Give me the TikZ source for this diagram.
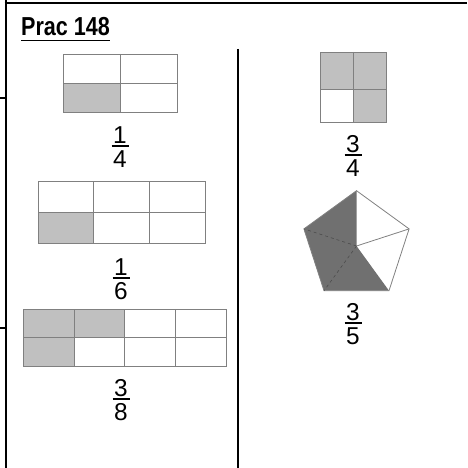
\documentclass[tikz,border=0pt]{standalone}
\usepackage{fontspec}
\setmainfont{Liberation Sans}
\definecolor{gridgray}{RGB}{128,128,128}
\definecolor{shadegray}{RGB}{192,192,192}
\definecolor{pentdark}{RGB}{112,112,112}
\newcommand\myfrac[5]{%
  \node[digit,anchor=base] (#1n) at (#2,#3-2.5) {#4};
  \node[digit,anchor=north] (#1d) at (#2,#3+4.5) {#5};
  \draw[frbar] (#2-8.5,#3) -- (#2+8.5,#3);}
\begin{document}
\begin{tikzpicture}[x=1pt,y=-1pt,
  cell/.style={draw=gridgray,line width=0.9pt},
  shadecell/.style={fill=shadegray},
  digit/.style={inner sep=0pt,font=\fontsize{24.4}{28}\selectfont},
  frbar/.style={line width=1.1pt},
  border/.style={line width=2pt},
  stub/.style={line width=1.5pt}]
\useasboundingbox (0,0) rectangle (467,468);
% borders
\draw[border] (5.5,0) -- (5.5,468);
\draw[border] (4.5,3) -- (467,3);
\draw[stub] (0,98) -- (5.5,98);
\draw[stub] (0,328) -- (5.5,328);
\draw[border] (238,49) -- (238,468);
% title
\node[anchor=base west,inner sep=0pt,font=\bfseries\fontsize{26}{30}\selectfont] (title) at (21,36) {\scalebox{0.83}[1]{Prac 148}};
\draw[line width=1.5pt] ([yshift=-4pt]title.south west) -- ([yshift=-4pt]title.south east);
% grid A : 1/4
\fill[shadecell] (63,83) rectangle (120,112);
\draw[cell] (63,54) rectangle (177,112);
\draw[cell] (120,54) -- (120,112);
\draw[cell] (63,83) -- (177,83);
\myfrac{fa}{120}{146}{1}{4}
% grid B : 1/6
\fill[shadecell] (38,212) rectangle (93.7,243);
\draw[cell] (38,181) rectangle (205,243);
\draw[cell] (93.7,181) -- (93.7,243);
\draw[cell] (149.3,181) -- (149.3,243);
\draw[cell] (38,212) -- (205,212);
\myfrac{fb}{121}{278}{1}{6}
% grid C : 3/8
\fill[shadecell] (23,309) rectangle (124.5,337.5);
\fill[shadecell] (23,337.5) rectangle (74,366);
\draw[cell] (23,309) rectangle (226,366);
\draw[cell] (74,309) -- (74,366);
\draw[cell] (124.5,309) -- (124.5,366);
\draw[cell] (175,309) -- (175,366);
\draw[cell] (23,337.5) -- (226,337.5);
\myfrac{fc}{121}{399}{3}{8}
% grid D : 3/4
\fill[shadecell] (320,52) rectangle (386,89);
\fill[shadecell] (353,89) rectangle (386,122);
\draw[cell] (320,52) rectangle (386,122);
\draw[cell] (353,52) -- (353,122);
\draw[cell] (320,89) -- (386,89);
\myfrac{fd}{353}{155}{3}{4}
% pentagon : 3/5
\coordinate (pc) at (356.5,246);
\coordinate (pt) at (356.5,190.7);
\coordinate (pr) at (409.1,228.9);
\coordinate (pbr) at (389,290.7);
\coordinate (pbl) at (324,290.7);
\coordinate (pl) at (303.9,228.9);
\fill[pentdark] (pc) -- (pt) -- (pl) -- (pbl) -- (pbr) -- cycle;
\draw[gridgray,line width=0.8pt] (pt) -- (pr) -- (pbr) -- (pbl) -- (pl) -- cycle;
\draw[gridgray,line width=0.8pt] (pc) -- (pr);
\draw[black!70,line width=0.6pt,dashed] (pc) -- (pl) (pc) -- (pbl);
\myfrac{fe}{353}{323}{3}{5}
\end{tikzpicture}
\end{document}
